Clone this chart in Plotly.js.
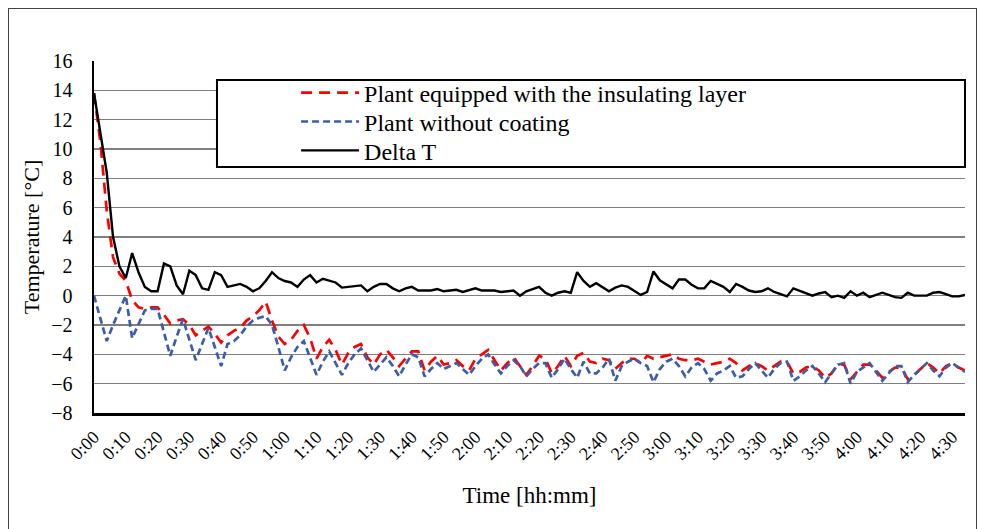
<!DOCTYPE html>
<html>
<head>
<meta charset="utf-8">
<script src="https://cdn.plot.ly/plotly-3.0.1.min.js"></script>
<style>
  html, body { margin: 0; padding: 0; background: #fff; }
  #wrap { position: relative; width: 987px; height: 529px; overflow: hidden; }
  #chart { width: 987px; height: 529px; }
  #frame { position: absolute; left: 8px; top: 8px; width: 969px; height: 540px;
           border: 1px solid #444; pointer-events: none; box-sizing: border-box; }
</style>
</head>
<body>
<div id="wrap">
  <div id="chart"></div>
  <div id="frame"></div>
</div>
<script>
// Sampling interval of the measurements (minutes)
const STEP_MIN = 2;

// Series values (°C), one value every 2 minutes from 0:00
const insulated = [
  13.8, 10.5, 5.8, 2.6, 1.5, 1.0, -0.3, -0.8, -0.9, -0.8,
  -0.8, -1.3, -1.9, -1.7, -1.6, -2.0, -2.7, -2.4, -2.1, -2.6,
  -3.2, -2.7, -2.4, -2.2, -1.7, -1.4, -1.0, -0.4, -1.7, -2.8,
  -3.3, -3.0, -2.4, -2.0, -2.9, -4.3, -3.5, -3.0, -3.7, -4.7,
  -3.9, -3.5, -3.3, -4.2, -4.7, -4.0, -3.7, -4.2, -4.8, -4.3,
  -3.8, -3.8, -5.1, -4.5, -4.1, -4.7, -4.6, -4.4, -4.8, -5.1,
  -4.3, -4.0, -3.7, -4.4, -5.1, -4.6, -4.2, -4.8, -5.4, -4.8,
  -4.1, -4.3, -5.3, -4.8, -4.1, -4.8, -4.1, -3.9, -4.5, -4.6,
  -4.3, -4.4, -5.0, -4.6, -4.3, -4.3, -4.6, -4.1, -4.3, -4.2,
  -4.1, -4.0, -4.3, -4.4, -4.4, -4.3, -4.5, -4.7, -4.6, -4.5,
  -4.3, -4.6, -5.1, -4.8, -4.6, -4.8, -5.1, -4.8, -4.5, -4.5,
  -5.3, -5.2, -4.9, -4.8, -5.1, -5.6, -5.3, -4.7, -4.7, -5.7,
  -5.2, -4.7, -4.7, -5.1, -5.6, -5.2, -4.9, -4.9, -5.7, -5.4,
  -5.0, -4.6, -4.9, -5.3, -4.8, -4.6, -4.9, -5.1
];

const uncoated = [
  0.0, -1.5, -3.1, -2.0, -1.0, 0.0, -2.9, -1.9, -1.0, -0.9,
  -0.9, -2.5, -4.1, -2.8, -1.6, -3.0, -4.4, -3.3, -2.2, -3.5,
  -4.8, -3.3, -3.1, -2.7, -2.1, -1.7, -1.5, -1.4, -2.0, -3.5,
  -5.1, -4.2, -3.5, -3.1, -4.3, -5.4, -4.5, -3.8, -4.6, -5.4,
  -4.6, -4.0, -3.6, -4.4, -5.2, -4.7, -4.2, -4.8, -5.5, -4.7,
  -4.0, -4.2, -5.5, -5.0, -4.6, -5.0, -4.8, -4.6, -5.0, -5.4,
  -4.8, -4.3, -4.0, -4.7, -5.3, -4.8, -4.4, -4.8, -5.5, -5.0,
  -4.6, -4.6, -5.6, -5.0, -4.3, -5.0, -5.6, -4.5, -5.3, -5.3,
  -4.9, -4.3, -5.8, -4.8, -4.5, -4.3, -4.6, -4.8, -5.9, -5.0,
  -4.5, -4.3, -4.8, -5.5, -4.9, -4.6, -5.0, -5.8, -5.3, -5.1,
  -4.8, -5.6, -5.5, -5.0, -4.6, -5.1, -5.6, -5.0, -4.6, -4.5,
  -5.8, -5.5, -5.1, -4.8, -5.3, -5.9, -5.3, -4.7, -4.6, -6.0,
  -5.2, -4.9, -4.6, -5.2, -5.8, -5.3, -4.8, -4.8, -5.9, -5.4,
  -5.0, -4.6, -5.1, -5.5, -4.9, -4.6, -4.9, -5.2
];

const deltaT = [
  13.8, 11.0, 8.4, 4.0, 2.0, 1.2, 2.9, 1.6, 0.6, 0.3,
  0.3, 2.2, 2.0, 0.7, 0.1, 1.7, 1.4, 0.5, 0.4, 1.6,
  1.4, 0.6, 0.7, 0.8, 0.6, 0.3, 0.5, 1.0, 1.6, 1.2,
  1.0, 0.9, 0.6, 1.1, 1.4, 0.9, 1.15, 1.0, 0.9, 0.55,
  0.6, 0.6, 0.7, 0.3, 0.6, 0.8, 0.8, 0.5, 0.3, 0.5,
  0.6, 0.35, 0.35, 0.35, 0.45, 0.3, 0.35, 0.4, 0.25, 0.35,
  0.5, 0.35, 0.35, 0.35, 0.25, 0.3, 0.35, 0.0, 0.3, 0.45,
  0.6, 0.2, 0.0, 0.2, 0.3, 0.2, 1.6, 1.0, 0.6, 0.85,
  0.6, 0.3, 0.55, 0.7, 0.6, 0.35, 0.05, 0.25, 1.65, 1.05,
  0.8, 0.5, 1.1, 1.1, 0.75, 0.5, 0.5, 1.0, 0.8, 0.6,
  0.25, 0.8, 0.6, 0.35, 0.25, 0.3, 0.5, 0.25, 0.1, -0.05,
  0.5, 0.35, 0.2, 0.0, 0.15, 0.25, -0.1, 0.0, -0.15, 0.3,
  0.0, 0.2, -0.1, 0.05, 0.2, 0.05, -0.1, -0.15, 0.2, 0.0,
  0.0, 0.0, 0.2, 0.25, 0.1, -0.05, -0.05, 0.05
];

// Tick labels on the time axis
const tickLabels = [
  "0:00","0:10","0:20","0:30","0:40","0:50","1:00","1:10","1:20","1:30",
  "1:40","1:50","2:00","2:10","2:20","2:30","2:40","2:50","3:00","3:10",
  "3:20","3:30","3:40","3:50","4:00","4:10","4:20","4:30"
];

const seriesNames = [
  "Plant equipped with the insulating layer",
  "Plant without coating",
  "Delta T"
];

const minutes = insulated.map((_, i) => i * STEP_MIN);
const tickVals = tickLabels.map(s => { const p = s.split(":"); return (+p[0]) * 60 + (+p[1]); });

const serif = "Liberation Serif";

const traces = [
  { x: minutes, y: insulated, name: seriesNames[0], type: "scatter", mode: "lines",
    legend: "legend",
    line: { color: "#FF0000", width: 2.7, dash: "11px,7px" } },
  { x: minutes, y: uncoated, name: seriesNames[1], type: "scatter", mode: "lines",
    legend: "legend2",
    line: { color: "#3A5FA8", width: 2.7, dash: "7px,4px" } },
  { x: minutes, y: deltaT, name: seriesNames[2], type: "scatter", mode: "lines",
    legend: "legend3",
    line: { color: "#000000", width: 2.4 } }
];

function legendAt(yPaper) {
  return {
    x: 0.232, y: yPaper, xanchor: "left", yanchor: "middle",
    bgcolor: "rgba(0,0,0,0)", borderwidth: 0,
    font: { family: serif, size: 24, color: "#000" },
    itemwidth: 58
  };
}

const layout = {
  width: 987, height: 529,
  margin: { l: 94, r: 22, t: 61, b: 116 },
  paper_bgcolor: "#ffffff", plot_bgcolor: "#ffffff",
  font: { family: serif, color: "#000", size: 16 },
  showlegend: true,
  legend: legendAt(0.909),
  legend2: legendAt(0.827),
  legend3: legendAt(0.745),
  xaxis: {
    range: [0, 274], tickmode: "array", tickvals: tickVals, ticktext: tickLabels,
    tickangle: -45, tickfont: { family: serif, size: 18, color: "#000" },
    showgrid: false, zeroline: false, showline: true, linecolor: "#000", linewidth: 2.5,
    ticks: "", ticklabelstandoff: 4,
    title: { text: "Time [hh:mm]", font: { family: serif, size: 23, color: "#000" }, standoff: 24 }
  },
  yaxis: {
    range: [-8, 16], dtick: 2, tick0: 0,
    tickfont: { family: serif, size: 20, color: "#000" },
    showgrid: true, gridcolor: "#7f7f7f", gridwidth: 1.2,
    zeroline: false, showline: true, linecolor: "#000", linewidth: 2.5,
    ticks: "", ticklabelstandoff: 15,
    title: { text: "Temperature [°C]", font: { family: serif, size: 22, color: "#000" }, standoff: 6 }
  },
  shapes: [
    { type: "rect", xref: "paper", yref: "paper", layer: "above",
      x0: 0.1412, x1: 1.0, y0: 0.699, y1: 0.946,
      fillcolor: "#ffffff", line: { color: "#000", width: 2 } }
  ]
};

Plotly.newPlot("chart", traces, layout, { displayModeBar: false, staticPlot: true });
</script>
</body>
</html>
